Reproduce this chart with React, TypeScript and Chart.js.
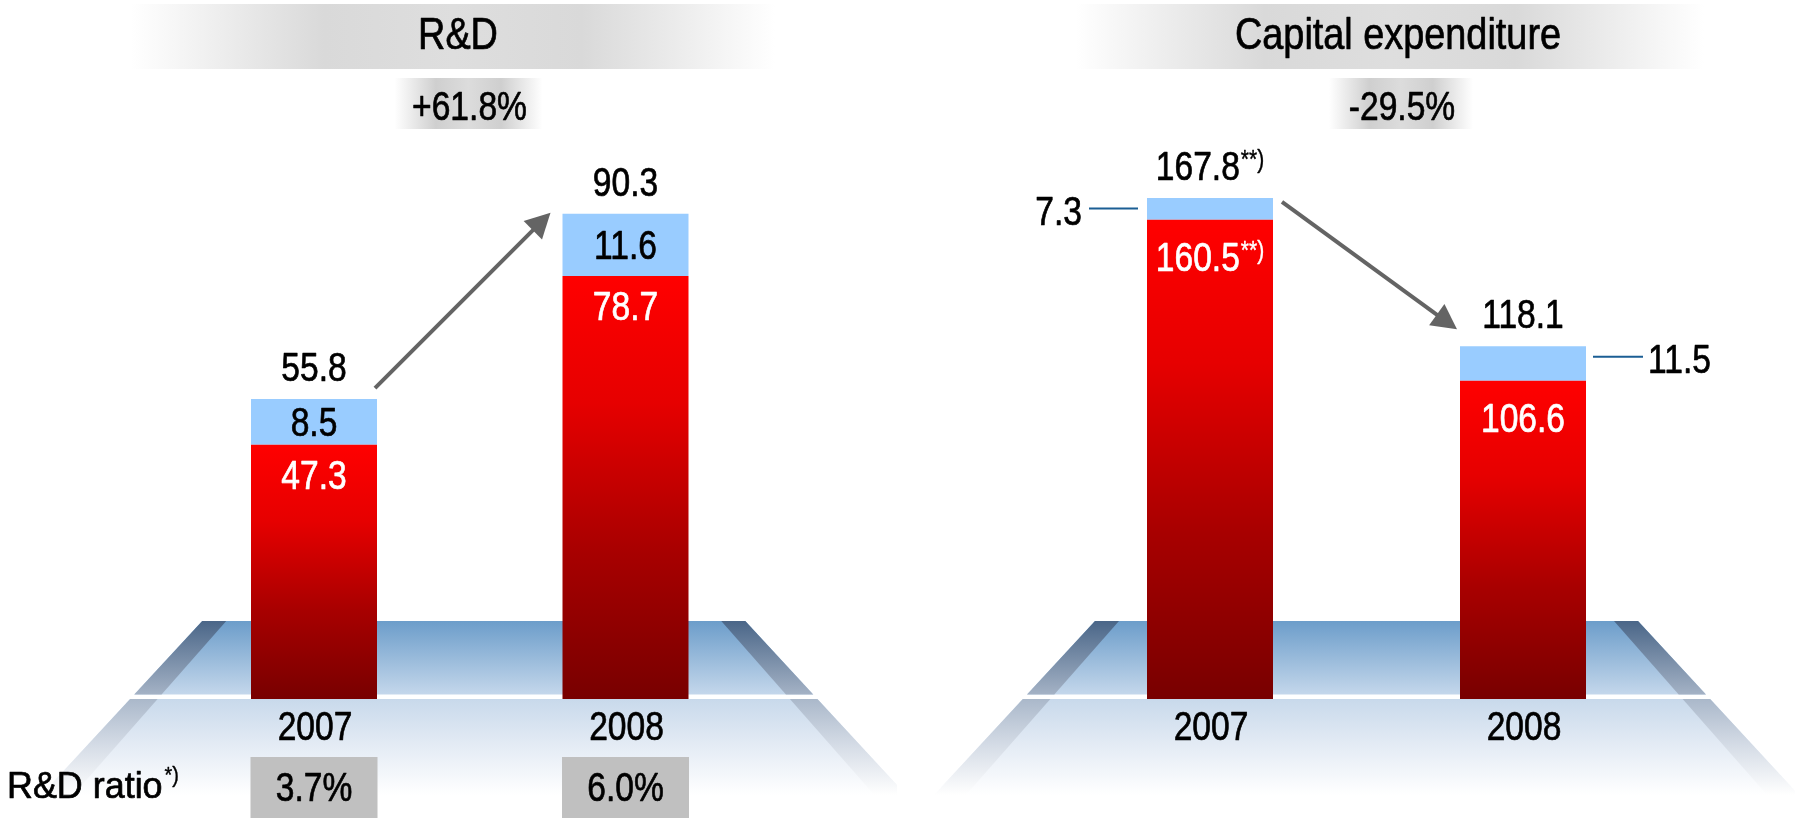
import React, { useEffect, useRef } from 'react';
import { Chart, registerables } from 'chart.js';

Chart.register(...registerables);

// ---------- data ----------
const years = ['2007', '2008'];

const rdTitle = 'R&D';
const rdChange = '+61.8%';
const rdCore = [47.3, 78.7];
const rdOther = [8.5, 11.6];
const rdTotals = [55.8, 90.3];
const rdTotalNotes = ['', ''];
const rdCoreNotes = ['', ''];
const rdRatioLabel = 'R&D ratio';
const rdRatioNote = '*)';
const rdRatios = ['3.7%', '6.0%'];

const capexTitle = 'Capital expenditure';
const capexChange = '-29.5%';
const capexCore = [160.5, 106.6];
const capexOther = [7.3, 11.5];
const capexTotals = [167.8, 118.1];
const capexTotalNotes = ['**)', ''];
const capexCoreNotes = ['**)', ''];

// ---------- styles ----------
const FAMILY = "'Liberation Sans', Arial, sans-serif";
const NUM_SIZE = 40;
const NUM_SX = 0.84; // horizontal squeeze to imitate the condensed face
const BLUE = '#99ccff';
const H = 818;

type Layout = {
  left: number;
  width: number;
  padL: number;
  padR: number;
  catPct: number;
  titleX: number;
  bandX: number;
  bandHalf: number;
  badgeX: number;
  badgeHalf: number;
  platformDx: number;
  coreGap: number;
  otherSide: string[];
  arrow: number[];
};

type Panel = {
  key: string;
  title: string;
  change: string;
  core: number[];
  other: number[];
  totals: number[];
  totalNotes: string[];
  coreNotes: string[];
  yMax: number;
  ratios?: string[];
  layout: Layout;
};

const panels: Panel[] = [
  {
    key: 'rd',
    title: rdTitle,
    change: rdChange,
    core: rdCore,
    other: rdOther,
    totals: rdTotals,
    totalNotes: rdTotalNotes,
    coreNotes: rdCoreNotes,
    yMax: 100,
    ratios: rdRatios,
    layout: {
      left: 0,
      width: 897,
      padL: 158.25,
      padR: 115.75,
      catPct: 126 / 311.5,
      titleX: 458,
      bandX: 453,
      bandHalf: 322,
      badgeX: 468.5,
      badgeHalf: 74,
      platformDx: 4,
      coreGap: 44,
      otherSide: ['inside', 'inside'],
      arrow: [-2, -11, -12, -1],
    },
  },
  {
    key: 'capex',
    title: capexTitle,
    change: capexChange,
    core: capexCore,
    other: capexOther,
    totals: capexTotals,
    totalNotes: capexTotalNotes,
    coreNotes: capexCoreNotes,
    yMax: 180,
    layout: {
      left: 897,
      width: 898,
      padL: 156.5,
      padR: 115.5,
      catPct: 126 / 313,
      titleX: 501,
      bandX: 493,
      bandHalf: 314,
      badgeX: 504,
      badgeHalf: 72,
      platformDx: 0,
      coreGap: 51,
      otherSide: ['left', 'right'],
      arrow: [9, 4, -3, -17],
    },
  },
];

const fmt = (v: number) => v.toFixed(1);

// text drawn with a horizontal squeeze and a hair of extra weight
function txt(
  ctx: CanvasRenderingContext2D,
  text: string,
  x: number,
  y: number,
  size: number,
  align: CanvasTextAlign,
  color: string,
  sx: number = NUM_SX,
) {
  ctx.save();
  ctx.font = `${size}px ${FAMILY}`;
  ctx.fillStyle = color;
  ctx.strokeStyle = color;
  ctx.lineWidth = size >= 30 ? 0.7 : 0.4;
  ctx.lineJoin = 'round';
  ctx.textAlign = align;
  ctx.textBaseline = 'alphabetic';
  ctx.translate(x, y);
  ctx.scale(sx, 1);
  ctx.fillText(text, 0, 0);
  ctx.strokeText(text, 0, 0);
  ctx.restore();
}

function width(ctx: CanvasRenderingContext2D, text: string, size: number, sx: number = NUM_SX) {
  ctx.save();
  ctx.font = `${size}px ${FAMILY}`;
  const w = ctx.measureText(text).width * sx;
  ctx.restore();
  return w;
}

function drawNoted(
  ctx: CanvasRenderingContext2D,
  main: string,
  note: string,
  cx: number,
  baseline: number,
  color: string,
) {
  const w1 = width(ctx, main, NUM_SIZE);
  const w2 = note ? width(ctx, note, 25) + 1 : 0;
  const start = cx - (w1 + w2) / 2;
  txt(ctx, main, start, baseline, NUM_SIZE, 'left', color);
  if (note) txt(ctx, note, start + w1 + 1, baseline - 12, 25, 'left', color);
}

function decorPlugin(cfg: Panel) {
  const L = cfg.layout;
  return {
    id: 'decor-' + cfg.key,
    beforeDraw(chart: any) {
      const { ctx, chartArea, scales } = chart;
      const xs = scales.x;
      ctx.save();
      // title band
      const bx0 = L.bandX - L.bandHalf;
      const bx1 = L.bandX + L.bandHalf;
      let g = ctx.createLinearGradient(bx0, 0, bx1, 0);
      g.addColorStop(0, 'rgba(255,255,255,1)');
      g.addColorStop(0.3, '#d9d9d9');
      g.addColorStop(0.5, '#dedede');
      g.addColorStop(0.7, '#d9d9d9');
      g.addColorStop(1, 'rgba(255,255,255,1)');
      ctx.fillStyle = g;
      ctx.fillRect(bx0, 4, bx1 - bx0, 65);
      txt(ctx, cfg.title, L.titleX, 49, 44, 'center', '#000', 0.86);

      // change badge
      const cx0 = L.badgeX - L.badgeHalf;
      const cx1 = L.badgeX + L.badgeHalf;
      g = ctx.createLinearGradient(cx0, 0, cx1, 0);
      g.addColorStop(0, 'rgba(255,255,255,1)');
      g.addColorStop(0.28, '#cfcfcf');
      g.addColorStop(0.5, '#dcdcdc');
      g.addColorStop(0.72, '#cfcfcf');
      g.addColorStop(1, 'rgba(255,255,255,1)');
      ctx.fillStyle = g;
      ctx.fillRect(cx0, 78, cx1 - cx0, 51);
      txt(ctx, cfg.change, L.badgeX + 1, 120, NUM_SIZE, 'center', '#000');

      // platform
      const B = chartArea.bottom;
      const cx = (xs.getPixelForValue(0) + xs.getPixelForValue(1)) / 2 + L.platformDx;
      const t = B - 78;
      const m = B - 4.5;
      const E = B + 96;
      const hw = (y: number) => 271.5 + (y - t) * 0.925;
      const sw = (y: number) => 24 + (y - t) * 0.045;
      const quad = (pts: number[][], fill: any) => {
        ctx.beginPath();
        ctx.moveTo(pts[0][0], pts[0][1]);
        for (let i = 1; i < pts.length; i++) ctx.lineTo(pts[i][0], pts[i][1]);
        ctx.closePath();
        ctx.fillStyle = fill;
        ctx.fill();
      };
      g = ctx.createLinearGradient(0, t, 0, m);
      g.addColorStop(0, '#6c9dca');
      g.addColorStop(1, '#c4d7eb');
      quad([[cx - hw(t), t], [cx + hw(t), t], [cx + hw(m), m], [cx - hw(m), m]], g);
      g = ctx.createLinearGradient(0, t, 0, m);
      g.addColorStop(0, '#4a6688');
      g.addColorStop(1, '#a4b2c5');
      quad([[cx - hw(t), t], [cx - hw(t) + sw(t), t], [cx - hw(m) + sw(m), m], [cx - hw(m), m]], g);
      quad([[cx + hw(t), t], [cx + hw(t) - sw(t), t], [cx + hw(m) - sw(m), m], [cx + hw(m), m]], g);
      g = ctx.createLinearGradient(0, B, 0, E);
      g.addColorStop(0, '#c8d9eb');
      g.addColorStop(0.45, '#e2eaf4');
      g.addColorStop(1, 'rgba(255,255,255,1)');
      quad([[cx - hw(B), B], [cx + hw(B), B], [cx + hw(E), E], [cx - hw(E), E]], g);
      g = ctx.createLinearGradient(0, B, 0, E);
      g.addColorStop(0, '#aab8ca');
      g.addColorStop(0.5, '#d6dde7');
      g.addColorStop(1, 'rgba(255,255,255,1)');
      quad([[cx - hw(B), B], [cx - hw(B) + sw(B), B], [cx - hw(E) + sw(E), E], [cx - hw(E), E]], g);
      quad([[cx + hw(B), B], [cx + hw(B) - sw(B), B], [cx + hw(E) - sw(E), E], [cx + hw(E), E]], g);
      ctx.restore();
    },
    afterDatasetsDraw(chart: any) {
      const { ctx, chartArea, scales } = chart;
      const xs = scales.x;
      const core = chart.getDatasetMeta(0).data;
      const other = chart.getDatasetMeta(1).data;
      ctx.save();
      // category labels, placed by the x scale
      const labels = chart.data.labels as string[];
      labels.forEach((lab, i) => {
        txt(ctx, lab, xs.getPixelForTick(i) + 1, chartArea.bottom + 41, NUM_SIZE, 'center', '#000');
      });
      for (let i = 0; i < core.length; i++) {
        const c = core[i];
        const o = other[i];
        const half = o.width / 2;
        const left = o.x - half;
        const right = o.x + half;
        drawNoted(ctx, fmt(cfg.totals[i]), cfg.totalNotes[i], o.x, o.y - 18, '#000');
        const side = L.otherSide[i];
        if (side === 'inside') {
          txt(ctx, fmt(cfg.other[i]), o.x, (o.y + o.base) / 2 + 14.3, NUM_SIZE, 'center', '#000');
        } else {
          const ly = o.y + 10.5;
          ctx.strokeStyle = '#1b5e94';
          ctx.lineWidth = 2;
          ctx.beginPath();
          if (side === 'left') {
            ctx.moveTo(left - 58, ly);
            ctx.lineTo(left - 9, ly);
          } else {
            ctx.moveTo(right + 7, ly);
            ctx.lineTo(right + 57, ly);
          }
          ctx.stroke();
          txt(
            ctx,
            fmt(cfg.other[i]),
            side === 'left' ? left - 65 : right + 62,
            ly + 16.5,
            NUM_SIZE,
            side === 'left' ? 'right' : 'left',
            '#000',
          );
        }
        drawNoted(ctx, fmt(cfg.core[i]), cfg.coreNotes[i], c.x, c.y + L.coreGap, '#fff');
        if (cfg.ratios) {
          ctx.fillStyle = '#c0c0c0';
          ctx.fillRect(o.x - 63.5, 757, 127, H - 757);
          txt(ctx, cfg.ratios[i], o.x, 801, NUM_SIZE, 'center', '#000');
        }
      }
      if (cfg.ratios) {
        txt(ctx, rdRatioLabel, 7, 798, 37, 'left', '#000', 0.97);
        const w = width(ctx, rdRatioLabel, 37, 0.97);
        txt(ctx, rdRatioNote, 7 + w + 2, 782, 22, 'left', '#000', 0.9);
      }
      // arrow
      const a = L.arrow;
      const sx = other[0].x + other[0].width / 2 + a[0];
      const sy = other[0].y + a[1];
      const tx = other[1].x - other[1].width / 2 + a[2];
      const ty = other[1].y + a[3];
      const dx = tx - sx;
      const dy = ty - sy;
      const len = Math.hypot(dx, dy);
      const ux = dx / len;
      const uy = dy / len;
      const headLen = 25;
      const headHalf = 13;
      ctx.strokeStyle = '#646464';
      ctx.fillStyle = '#646464';
      ctx.lineWidth = 4;
      ctx.beginPath();
      ctx.moveTo(sx, sy);
      ctx.lineTo(tx - ux * headLen * 0.85, ty - uy * headLen * 0.85);
      ctx.stroke();
      const bxp = tx - ux * headLen;
      const byp = ty - uy * headLen;
      ctx.beginPath();
      ctx.moveTo(tx, ty);
      ctx.lineTo(bxp - uy * headHalf, byp + ux * headHalf);
      ctx.lineTo(bxp + uy * headHalf, byp - ux * headHalf);
      ctx.closePath();
      ctx.fill();
      ctx.restore();
    },
  };
}

function PanelChart({ cfg }: { cfg: Panel }) {
  const ref = useRef<HTMLCanvasElement>(null);
  useEffect(() => {
    const L = cfg.layout;
    const redFill = (c: any) => {
      const chart = c.chart;
      const { chartArea, scales } = chart;
      if (!chartArea || c.type !== 'data') return '#d00000';
      const top = scales.y.getPixelForValue(cfg.core[c.dataIndex]);
      const bottom = scales.y.getPixelForValue(0);
      const g = chart.ctx.createLinearGradient(0, top, 0, bottom);
      g.addColorStop(0, '#ff0000');
      g.addColorStop(0.3, '#e60000');
      g.addColorStop(0.65, '#a80000');
      g.addColorStop(1, '#780000');
      return g;
    };
    const chart = new Chart(ref.current as HTMLCanvasElement, {
      type: 'bar',
      data: {
        labels: years,
        datasets: [
          {
            label: 'core',
            data: cfg.core,
            backgroundColor: redFill,
            borderWidth: 0,
            categoryPercentage: L.catPct,
            barPercentage: 1,
          },
          {
            label: 'other',
            data: cfg.other,
            backgroundColor: BLUE,
            borderWidth: 0,
            categoryPercentage: L.catPct,
            barPercentage: 1,
          },
        ],
      },
      options: {
        responsive: false,
        animation: false,
        events: [],
        layout: { padding: { left: L.padL, right: L.padR, top: 161.5, bottom: 119 } },
        plugins: {
          legend: { display: false },
          tooltip: { enabled: false },
          title: { display: false },
        },
        scales: {
          x: { stacked: true, display: false },
          y: { stacked: true, display: false, min: 0, max: cfg.yMax },
        },
      },
      plugins: [decorPlugin(cfg)],
    } as any);
    return () => chart.destroy();
  }, [cfg]);
  return (
    <canvas
      ref={ref}
      width={cfg.layout.width}
      height={H}
      style={{
        position: 'absolute',
        left: cfg.layout.left,
        top: 0,
        width: cfg.layout.width,
        height: H,
        display: 'block',
      }}
    />
  );
}

export default function App() {
  return (
    <div
      style={{
        position: 'absolute',
        left: 0,
        top: 0,
        width: 1795,
        height: H,
        overflow: 'hidden',
        background: '#fff',
      }}
    >
      {panels.map((p) => (
        <PanelChart key={p.key} cfg={p} />
      ))}
    </div>
  );
}
